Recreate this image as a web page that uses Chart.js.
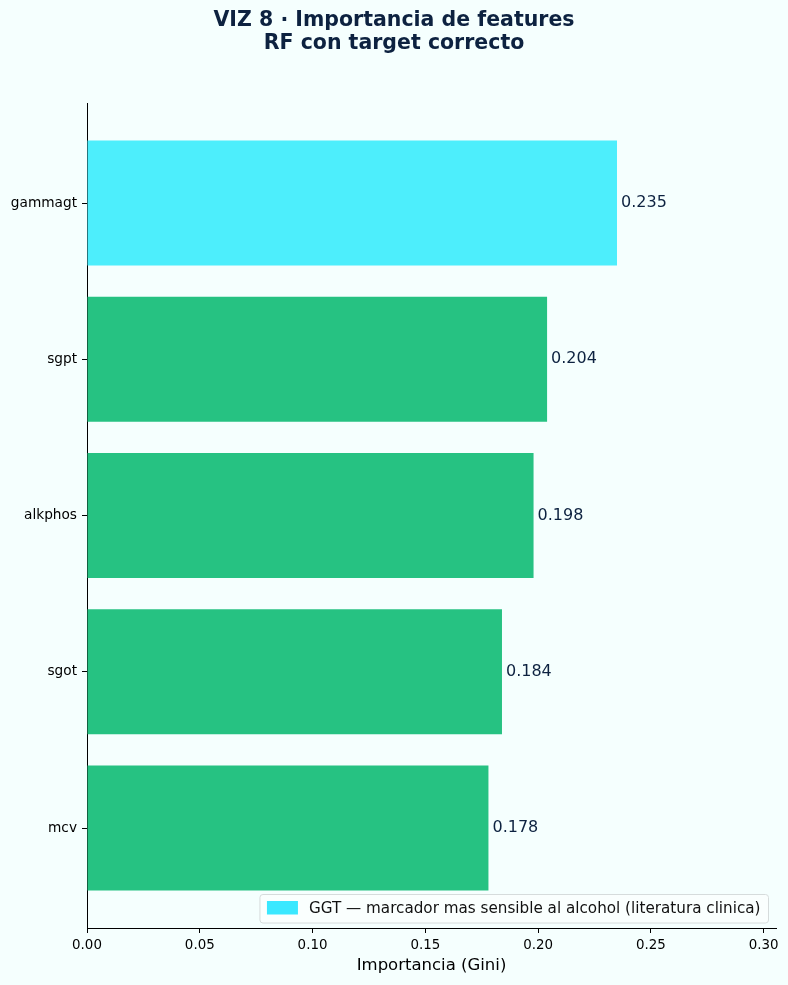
<!DOCTYPE html>
<html>
<head>
<meta charset="utf-8">
<script src="https://cdn.jsdelivr.net/npm/chart.js@4.4.1/dist/chart.umd.min.js"></script>
<style>
html,body{margin:0;padding:0;background:#F5FFFE;}
#wrap{width:788px;height:985px;position:relative;}
</style>
</head>
<body>
<div id="wrap"><canvas id="c"></canvas></div>
<script>
// ---- data ----
const categories = ['mcv', 'sgot', 'alkphos', 'sgpt', 'gammagt'];
const importance = [0.178, 0.184, 0.198, 0.204, 0.235];
const highlight = 'gammagt';
const xTicks = [0, 0.05, 0.10, 0.15, 0.20, 0.25, 0.30];
const titleLines = ['VIZ 8 · Importancia de features', 'RF con target correcto'];
const xTitle = 'Importancia (Gini)';
const legendText = 'GGT — marcador mas sensible al alcohol (literatura clinica)';

const CYAN = '#4DEEFC';
const GREEN = '#26C282';
const NAVY = '#0D2240';
const FONT = "'DejaVu Sans', sans-serif";

const points = categories.map((c, i) => ({ x: importance[i], y: i }));
const colors = categories.map(c => c === highlight ? CYAN : GREEN);

const titlePlugin = {
  id: 'figTitle',
  afterDraw(chart) {
    const ctx = chart.ctx;
    ctx.save();
    ctx.fillStyle = NAVY;
    ctx.font = 'bold 20.5px ' + FONT;
    ctx.textAlign = 'center';
    ctx.textBaseline = 'alphabetic';
    ctx.fillText(titleLines[0], 394, 26);
    ctx.fillText(titleLines[1], 394, 49);
    ctx.restore();
  }
};

const valueLabels = {
  id: 'valueLabels',
  afterDatasetsDraw(chart) {
    const ctx = chart.ctx;
    const meta = chart.getDatasetMeta(0);
    ctx.save();
    ctx.fillStyle = NAVY;
    ctx.font = '16px ' + FONT;
    ctx.textAlign = 'left';
    ctx.textBaseline = 'middle';
    meta.data.forEach((bar, i) => {
      ctx.fillText(importance[i].toFixed(3), bar.x + 4, bar.y);
    });
    ctx.restore();
  }
};

const boxLegend = {
  id: 'boxLegend',
  afterDraw(chart) {
    const ctx = chart.ctx;
    const a = chart.chartArea;
    ctx.save();
    ctx.font = '15.2px ' + FONT;
    const tw = ctx.measureText(legendText).width;
    const w = 7 + 31 + 11 + tw + 8;
    const h = 28.5;
    const right = a.right - 7.5;
    const bottom = a.bottom - 5;
    const x = right - w, y = bottom - h;
    const r = 3;
    ctx.beginPath();
    ctx.moveTo(x + r, y);
    ctx.lineTo(x + w - r, y);
    ctx.quadraticCurveTo(x + w, y, x + w, y + r);
    ctx.lineTo(x + w, y + h - r);
    ctx.quadraticCurveTo(x + w, y + h, x + w - r, y + h);
    ctx.lineTo(x + r, y + h);
    ctx.quadraticCurveTo(x, y + h, x, y + h - r);
    ctx.lineTo(x, y + r);
    ctx.quadraticCurveTo(x, y, x + r, y);
    ctx.closePath();
    ctx.fillStyle = 'rgba(250,255,254,0.85)';
    ctx.fill();
    ctx.strokeStyle = '#D6DCDC';
    ctx.lineWidth = 1;
    ctx.stroke();
    ctx.fillStyle = '#3AE8FF';
    ctx.fillRect(x + 7, y + 6.5, 31, 13.5);
    ctx.fillStyle = '#111';
    ctx.textAlign = 'left';
    ctx.textBaseline = 'middle';
    ctx.fillText(legendText, x + 49, y + h / 2);
    ctx.restore();
  }
};

new Chart(document.getElementById('c'), {
  type: 'bar',
  data: {
    datasets: [{
      data: points,
      backgroundColor: colors,
      borderWidth: 0,
      barPercentage: 0.8,
      categoryPercentage: 1.0
    }]
  },
  options: {
    indexAxis: 'y',
    responsive: true,
    maintainAspectRatio: false,
    animation: false,
    layout: { padding: { left: 0, right: 12, top: 103, bottom: 0 } },
    plugins: {
      legend: { display: false },
      title: { display: false },
      tooltip: { enabled: false }
    },
    scales: {
      x: {
        type: 'linear',
        min: 0,
        max: 0.3055,
        offset: false,
        afterBuildTicks(scale) { scale.ticks = xTicks.map(v => ({ value: v })); },
        afterFit(scale) { scale.height = 57; },
        grid: { offset: false, drawOnChartArea: false, drawTicks: true, tickLength: 5, tickColor: '#000', tickWidth: 1 },
        border: { display: true, color: '#000', width: 1 },
        ticks: {
          padding: 4,
          color: '#000',
          font: { family: FONT, size: 13.4 },
          maxRotation: 0,
          callback: v => Number(v).toFixed(2)
        },
        title: {
          display: true,
          text: xTitle,
          color: '#000',
          font: { family: FONT, size: 16.5 },
          padding: { top: 0, bottom: 9 }
        }
      },
      y: {
        type: 'linear',
        min: -0.64,
        max: 4.64,
        offset: false,
        afterBuildTicks(scale) { scale.ticks = categories.map((c, i) => ({ value: i })); },
        afterFit(scale) { scale.width = 87; },
        grid: { offset: false, drawOnChartArea: false, drawTicks: true, tickLength: 5, tickColor: '#000', tickWidth: 1 },
        border: { display: true, color: '#000', width: 1 },
        ticks: {
          padding: 5,
          color: '#000',
          font: { family: FONT, size: 13.7 },
          callback: v => categories[Math.round(v)] ?? ''
        }
      }
    }
  },
  plugins: [titlePlugin, valueLabels, boxLegend]
});
</script>
</body>
</html>
